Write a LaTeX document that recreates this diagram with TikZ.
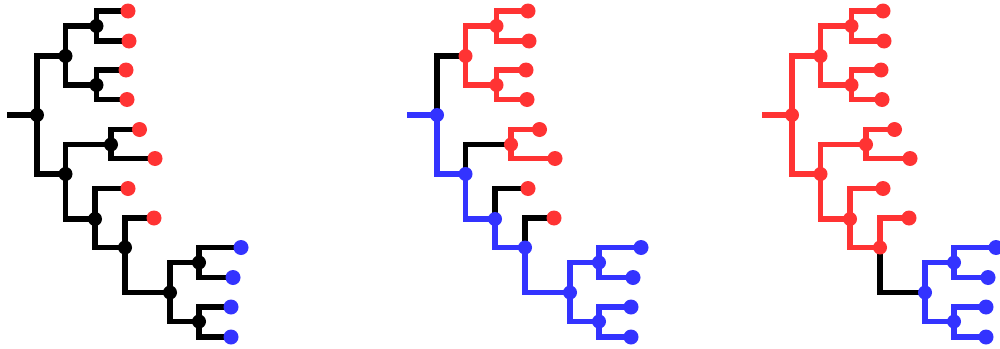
\documentclass[tikz,border=0pt]{standalone}
\usetikzlibrary{backgrounds}
\definecolor{cladered}{RGB}{255,51,51}
\definecolor{cladeblue}{RGB}{51,51,255}
\tikzset{
  branch/.style={line width=5.6pt},
  inner/.style={circle, fill, inner sep=0pt, minimum size=14pt},
  tip/.style={circle, fill, inner sep=0pt, minimum size=15pt},
  % colour groups of one tree (all black by default)
  gS/.style={color=black}, gRA/.style={color=black}, gA/.style={color=black},
  tA/.style={color=cladered}, gRB/.style={color=black}, gB/.style={color=black},
  gBBa/.style={color=black}, gBa/.style={color=black}, tBa/.style={color=cladered},
  gBBb/.style={color=black}, gBb/.style={color=black}, gBbL/.style={color=black},
  tLg/.style={color=cladered}, gBbBc/.style={color=black}, gBc/.style={color=black},
  gBcL/.style={color=black}, tLh/.style={color=cladered}, gBcC/.style={color=black},
  gC/.style={color=black}, tC/.style={color=cladeblue},
}
% one rooted tree; #1 prefixes the node names
\newcommand\drawtree[1]{%
  \coordinate (#1s) at (7,115);
  \node[inner, gS] (#1R) at (37,115) {};
  \node[inner, gA] (#1A) at (65.5,56) {};
  \node[inner, gA] (#1Aa) at (96.5,26) {};
  \node[tip, tA] (#1l1) at (128,11) {};
  \node[tip, tA] (#1l2) at (129,41) {};
  \node[inner, gA] (#1Ab) at (96.5,85) {};
  \node[tip, tA] (#1l3) at (126,70) {};
  \node[tip, tA] (#1l4) at (127,99.5) {};
  \node[inner, gB] (#1B) at (65.5,174) {};
  \node[inner, gBa] (#1Ba) at (111,144.5) {};
  \node[tip, tBa] (#1l5) at (139.5,129.5) {};
  \node[tip, tBa] (#1l6) at (155,158.5) {};
  \node[inner, gBb] (#1Bb) at (95,219) {};
  \node[tip, tLg] (#1l7) at (128,188.5) {};
  \node[inner, gBc] (#1Bc) at (125,247.5) {};
  \node[tip, tLh] (#1l8) at (154,218) {};
  \node[inner, gC] (#1C) at (170,292.5) {};
  \node[inner, gC] (#1Ca) at (199,262.5) {};
  \node[tip, tC] (#1l9) at (241,247.5) {};
  \node[tip, tC] (#1l10) at (233,277.5) {};
  \node[inner, gC] (#1Cb) at (199,321.5) {};
  \node[tip, tC] (#1l11) at (231,307) {};
  \node[tip, tC] (#1l12) at (231,337) {};
  \begin{pgfonlayer}{background}
    \draw[branch, gS] (#1s) -- (#1R.center);
    \draw[branch, gRA] (#1R.center) |- (#1A.center);
    \draw[branch, gA] (#1A.center) |- (#1Aa.center);
    \draw[branch, gA] (#1A.center) |- (#1Ab.center);
    \draw[branch, gA] (#1Aa.center) |- (#1l1.center);
    \draw[branch, gA] (#1Aa.center) |- (#1l2.center);
    \draw[branch, gA] (#1Ab.center) |- (#1l3.center);
    \draw[branch, gA] (#1Ab.center) |- (#1l4.center);
    \draw[branch, gRB] (#1R.center) |- (#1B.center);
    \draw[branch, gBBa] (#1B.center) |- (#1Ba.center);
    \draw[branch, gBa] (#1Ba.center) |- (#1l5.center);
    \draw[branch, gBa] (#1Ba.center) |- (#1l6.center);
    \draw[branch, gBBb] (#1B.center) |- (#1Bb.center);
    \draw[branch, gBbL] (#1Bb.center) |- (#1l7.center);
    \draw[branch, gBbBc] (#1Bb.center) |- (#1Bc.center);
    \draw[branch, gBcL] (#1Bc.center) |- (#1l8.center);
    \draw[branch, gBcC] (#1Bc.center) |- (#1C.center);
    \draw[branch, gC] (#1C.center) |- (#1Ca.center);
    \draw[branch, gC] (#1C.center) |- (#1Cb.center);
    \draw[branch, gC] (#1Ca.center) |- (#1l9.center);
    \draw[branch, gC] (#1Ca.center) |- (#1l10.center);
    \draw[branch, gC] (#1Cb.center) |- (#1l11.center);
    \draw[branch, gC] (#1Cb.center) |- (#1l12.center);
  \end{pgfonlayer}%
}
\begin{document}
\begin{tikzpicture}[x=1pt, y=-1pt]
  \useasboundingbox (0,0) rectangle (1000,348);
  \clip (0,0) rectangle (1000,348);
  % all branches black
  \begin{scope}
    \drawtree{a}
  \end{scope}
  % blue backbone, red clades
  \begin{scope}[xshift=400pt,
    gS/.style={color=cladeblue}, gA/.style={color=cladered},
    gRB/.style={color=cladeblue}, gB/.style={color=cladeblue},
    gBa/.style={color=cladered}, gBBb/.style={color=cladeblue},
    gBb/.style={color=cladeblue}, gBbBc/.style={color=cladeblue},
    gBc/.style={color=cladeblue}, gBcC/.style={color=cladeblue},
    gC/.style={color=cladeblue}]
    \drawtree{b}
  \end{scope}
  % red tree with a blue clade
  \begin{scope}[xshift=755pt,
    gS/.style={color=cladered}, gRA/.style={color=cladered},
    gA/.style={color=cladered}, gRB/.style={color=cladered},
    gB/.style={color=cladered}, gBBa/.style={color=cladered},
    gBa/.style={color=cladered}, gBBb/.style={color=cladered},
    gBb/.style={color=cladered}, gBbL/.style={color=cladered},
    gBbBc/.style={color=cladered}, gBc/.style={color=cladered},
    gBcL/.style={color=cladered}, gC/.style={color=cladeblue}]
    \drawtree{c}
  \end{scope}
\end{tikzpicture}
\end{document}
